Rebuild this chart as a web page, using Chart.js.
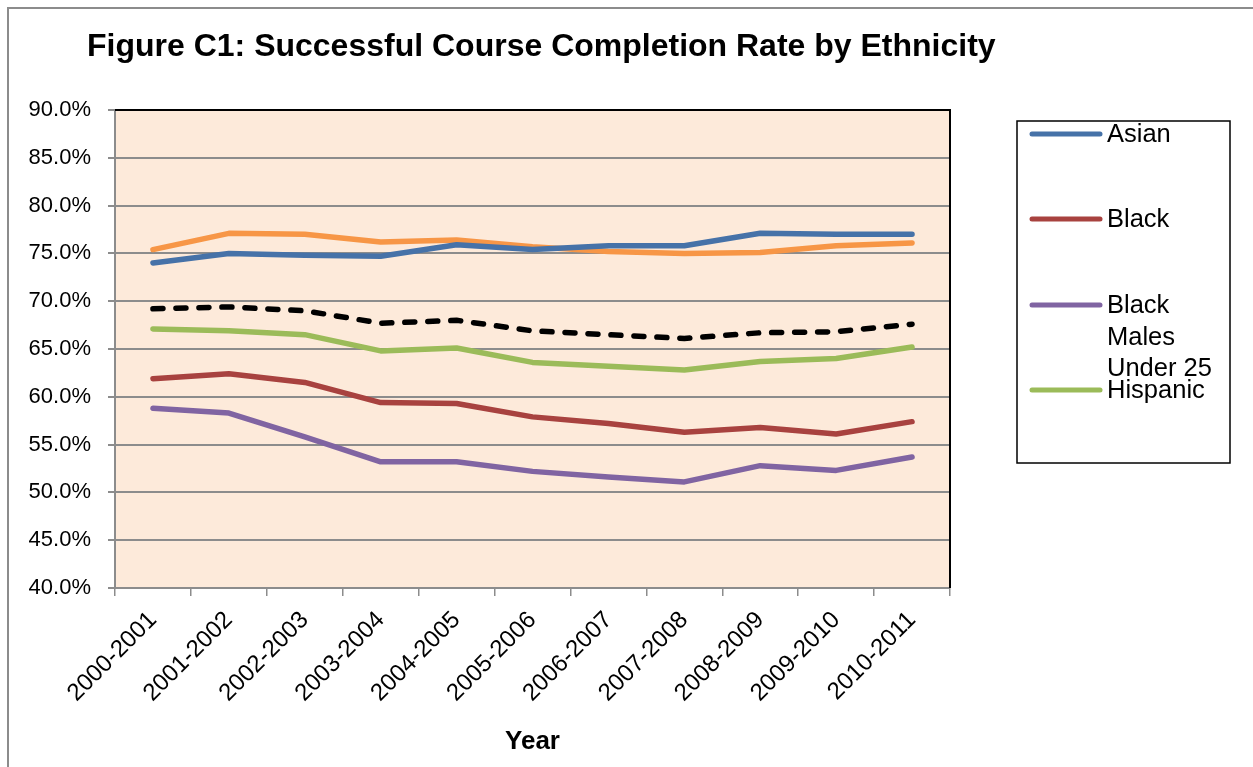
<!DOCTYPE html>
<html>
<head>
<meta charset="utf-8">
<script src="https://cdn.jsdelivr.net/npm/chart.js@4"></script>
<style>
  html, body { margin: 0; padding: 0; background: #fff; overflow: hidden; }
  #frame { position: absolute; left: 7px; top: 7px; width: 1300px; height: 800px; border: 2px solid #8c8c8c; }
  #myChart { position: absolute; left: 0; top: 0; }
</style>
</head>
<body>
<div id="frame"></div>
<canvas id="myChart" width="1253" height="767"></canvas>
<script>
// Data
const years = ['2000-2001', '2001-2002', '2002-2003', '2003-2004', '2004-2005', '2005-2006',
               '2006-2007', '2007-2008', '2008-2009', '2009-2010', '2010-2011'];
const asian = [74.0, 75.0, 74.8, 74.7, 75.9, 75.4, 75.8, 75.8, 77.1, 77.0, 77.0];
const black = [61.9, 62.4, 61.5, 59.4, 59.3, 57.9, 57.2, 56.3, 56.8, 56.1, 57.4];
const blackMales = [58.8, 58.3, 55.8, 53.2, 53.2, 52.2, 51.6, 51.1, 52.8, 52.3, 53.7];
const hispanic = [67.1, 66.9, 66.5, 64.8, 65.1, 63.6, 63.2, 62.8, 63.7, 64.0, 65.2];
const white = [75.4, 77.1, 77.0, 76.2, 76.4, 75.7, 75.2, 75.0, 75.1, 75.8, 76.1];
const overall = [69.2, 69.4, 69.0, 67.7, 68.0, 66.9, 66.5, 66.1, 66.7, 66.8, 67.6];
const yTicks = [40, 45, 50, 55, 60, 65, 70, 75, 80, 85, 90];

const FONT = '"Liberation Sans", Arial, sans-serif';

// Titel, baggrund og ramme om plotområdet
const decor = {
    id: 'decor',
    beforeDraw(chart) {
        const a = chart.chartArea, c = chart.ctx;
        c.save();
        c.fillStyle = '#FDEADA';
        c.fillRect(a.left, a.top, a.right - a.left, a.bottom - a.top);
        c.restore();
    },
    afterDraw(chart) {
        const a = chart.chartArea, c = chart.ctx;
        c.save();
        c.strokeStyle = '#000';
        c.lineWidth = 2;
        c.beginPath();
        c.moveTo(a.left, a.top);
        c.lineTo(a.right, a.top);
        c.lineTo(a.right, a.bottom);
        c.stroke();
        c.fillStyle = '#000';
        c.font = 'bold 32px ' + FONT;
        c.textBaseline = 'middle';
        c.fillText('Figure C1: Successful Course Completion Rate by Ethnicity', 87, 47);
        c.restore();
    }
};

// Legende som i originalen (kun de første fire serier vises)
const legendBox = {
    id: 'legendBox',
    afterDraw(chart) {
        const c = chart.ctx;
        c.save();
        c.strokeStyle = '#000';
        c.lineWidth = 1.5;
        c.strokeRect(1017, 121, 213, 342);
        c.font = '25.5px ' + FONT;
        c.textBaseline = 'middle';
        c.fillStyle = '#000';
        const rows = [134, 219, 305, 390];
        chart.data.datasets.slice(0, 4).forEach((ds, i) => {
            const y = rows[i];
            c.strokeStyle = ds.borderColor;
            c.lineWidth = 5;
            c.lineCap = 'round';
            c.beginPath();
            c.moveTo(1032, y);
            c.lineTo(1100, y);
            c.stroke();
            // ombryd teksten
            const words = ds.label.split(' ');
            const lines = [];
            let cur = '';
            words.forEach(w => {
                const test = cur ? cur + ' ' + w : w;
                if (cur && c.measureText(test).width > 118) { lines.push(cur); cur = w; }
                else cur = test;
            });
            lines.push(cur);
            lines.forEach((t, j) => c.fillText(t, 1107, y + 1 + j * 31.5));
        });
        c.restore();
    }
};

function line(label, data, color, dash) {
    return {
        label: label,
        data: data,
        borderColor: color,
        backgroundColor: color,
        borderWidth: 5.5,
        borderDash: dash || [],
        borderCapStyle: 'round',
        borderJoinStyle: 'round',
        pointRadius: 0,
        tension: 0,
        fill: false
    };
}

let ctx = document.getElementById('myChart').getContext('2d');
let myChart = new Chart(ctx, {
    type: 'line',
    data: {
        labels: years,
        datasets: [
            line('Asian', asian, '#4672A8'),
            line('Black', black, '#A8423F'),
            line('Black Males Under 25', blackMales, '#8064A2'),
            line('Hispanic', hispanic, '#9BBB59'),
            line('White', white, '#F79646'),
            line('Overall', overall, '#000000', [10, 13])
        ]
    },
    options: {
        responsive: false,
        animation: false,
        layout: { padding: { top: 110, right: 303, left: 0, bottom: 0 } },
        plugins: {
            legend: { display: false },
            tooltip: { enabled: false }
        },
        scales: {
            x: {
                offset: true,
                afterFit(scale) { scale.height = 179; },
                grid: { display: true, drawOnChartArea: false, offset: true, color: '#8c8c8c', tickLength: 8, lineWidth: 1.5 },
                border: { color: '#8c8c8c', width: 2 },
                ticks: {
                    color: '#000',
                    font: { family: FONT, size: 24 },
                    minRotation: 45,
                    maxRotation: 45,
                    autoSkip: false,
                    padding: 10
                },
                title: {
                    display: true,
                    text: 'Year',
                    color: '#000',
                    font: { family: FONT, size: 26, weight: 'bold' },
                    padding: { top: 0, bottom: 10 }
                }
            },
            y: {
                min: 40,
                max: 90,
                afterFit(scale) { scale.width = 115; },
                afterBuildTicks(scale) { scale.ticks = yTicks.map(v => ({ value: v })); },
                grid: { color: '#8c8c8c', lineWidth: 2, tickLength: 7 },
                border: { color: '#8c8c8c', width: 2 },
                ticks: {
                    color: '#000',
                    font: { family: FONT, size: 22 },
                    padding: 17,
                    callback: v => v.toFixed(1) + '%'
                }
            }
        }
    },
    plugins: [decor, legendBox]
});
</script>
</body>
</html>
